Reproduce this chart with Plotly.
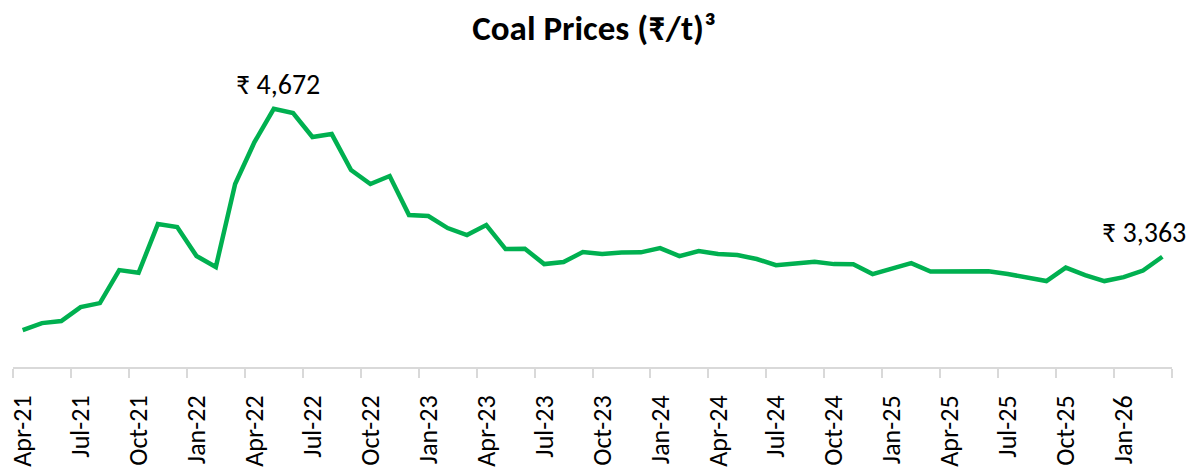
import plotly.graph_objects as go

months = ["Apr-21","May-21","Jun-21","Jul-21","Aug-21","Sep-21","Oct-21","Nov-21","Dec-21",
          "Jan-22","Feb-22","Mar-22","Apr-22","May-22","Jun-22","Jul-22","Aug-22","Sep-22",
          "Oct-22","Nov-22","Dec-22","Jan-23","Feb-23","Mar-23","Apr-23","May-23","Jun-23",
          "Jul-23","Aug-23","Sep-23","Oct-23","Nov-23","Dec-23","Jan-24","Feb-24","Mar-24",
          "Apr-24","May-24","Jun-24","Jul-24","Aug-24","Sep-24","Oct-24","Nov-24","Dec-24",
          "Jan-25","Feb-25","Mar-25","Apr-25","May-25","Jun-25","Jul-25","Aug-25","Sep-25",
          "Oct-25","Nov-25","Dec-25","Jan-26","Feb-26","Mar-26"]

prices = [2715, 2776, 2794, 2918, 2953, 3245, 3221, 3652, 3626,
          3369, 3272, 4006, 4377, 4672, 4634, 4422, 4448, 4130,
          4006, 4077, 3732, 3723, 3617, 3555, 3643, 3431, 3434,
          3298, 3316, 3404, 3387, 3401, 3402, 3440, 3369, 3413,
          3387, 3378, 3343, 3289, 3303, 3319, 3298, 3296, 3210,
          3254, 3307, 3232, 3236, 3235, 3234, 3210, 3183, 3148,
          3267, 3201, 3148, 3183, 3241, 3363]

title_text = "Coal Prices (₹/t)³"
label_idx = [13, 59]

FONT = "Carlito, Calibri, Lato, 'Noto Sans', sans-serif"

x = list(range(len(months)))
tick_idx = x[::3]
boundaries = [i - 0.5 for i in range(0, len(months) + 1, 3)]

fig = go.Figure()
fig.add_trace(go.Scatter(
    x=x, y=prices, mode="lines",
    line=dict(color="#00B050", width=4.5),
    hoverinfo="skip", showlegend=False,
))

shifts = {13: (4, 24), 59: (-18, 24)}
for i in label_idx:
    dx, dy = shifts[i]
    fig.add_annotation(
        x=i, y=prices[i], text=f"₹ {prices[i]:,}", showarrow=False,
        xshift=dx, yshift=dy, font=dict(family=FONT, size=28, color="#000000"),
    )

fig.update_layout(
    width=1188, height=469,
    margin=dict(l=13, r=16, t=72, b=102, autoexpand=False),
    paper_bgcolor="white", plot_bgcolor="white",
    title=dict(text=f"<b>{title_text}</b>", x=0.5, xanchor="center", y=0.94, yanchor="middle",
               font=dict(family=FONT, size=35, color="#000000")),
    xaxis=dict(
        range=[-0.5, len(months) - 0.5],
        automargin=False,
        tickmode="array", tickvals=tick_idx, ticktext=[months[i] for i in tick_idx],
        tickangle=-90, ticks="outside", ticklen=9, tickcolor="rgba(0,0,0,0)",
        ticklabelstandoff=7,
        tickfont=dict(family=FONT, size=26, color="#000000"),
        showline=True, linecolor="#d9d9d9", linewidth=2,
        showgrid=False, zeroline=False,
        minor=dict(tickmode="array", tickvals=boundaries, ticks="outside", ticklen=9,
                   tickcolor="#d9d9d9", tickwidth=2, showgrid=False),
    ),
    yaxis=dict(range=[2388, 4997], visible=False, showgrid=False, zeroline=False,
               automargin=False),
)

fig.write_html("out.html", config={"displayModeBar": False},
               post_script="document.body.style.margin='0';document.body.style.overflow='hidden';")
